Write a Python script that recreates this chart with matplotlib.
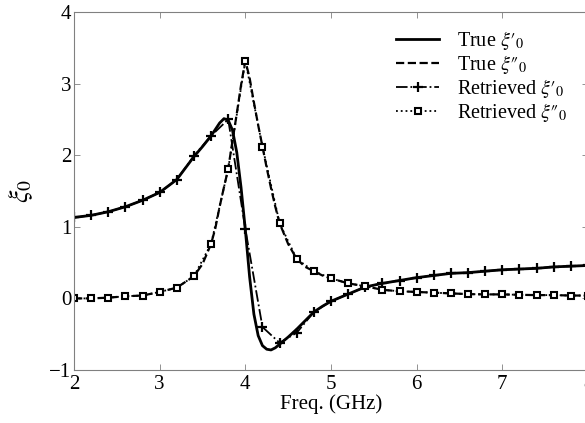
import numpy as np
import matplotlib
matplotlib.use("Agg")
import matplotlib.pyplot as plt

# ------------------ DATA ------------------

# true curves, finer near the resonance
f_true = [2.0, 2.2, 2.4, 2.6, 2.8, 3.0, 3.2, 3.4, 3.5, 3.6, 3.65, 3.7, 3.75,
          3.8, 3.85, 3.9, 3.95, 4.0, 4.05, 4.1, 4.15, 4.2, 4.25, 4.3, 4.35,
          4.4, 4.5, 4.6, 4.7, 4.8, 4.9, 5.0, 5.2, 5.4, 5.6, 5.8, 6.0, 6.2,
          6.4, 6.6, 6.8, 7.0, 7.2, 7.4, 7.6, 7.8, 8.0]
re_true = [1.13, 1.16, 1.21, 1.28, 1.37, 1.48, 1.66, 1.98, 2.12, 2.27, 2.36,
           2.45, 2.51, 2.49, 2.35, 2.04, 1.55, 0.96, 0.30, -0.22, -0.52,
           -0.66, -0.71, -0.72, -0.69, -0.64, -0.54, -0.43, -0.31, -0.19,
           -0.11, -0.04, 0.06, 0.16, 0.21, 0.25, 0.29, 0.32, 0.35, 0.36,
           0.38, 0.40, 0.41, 0.42, 0.44, 0.45, 0.46]
im_true = [0.0, 0.0, 0.01, 0.03, 0.04, 0.09, 0.15, 0.31, 0.48, 0.76, 0.98,
           1.28, 1.55, 1.81, 2.20, 2.58, 2.98, 3.32, 3.08, 2.74, 2.42, 2.12,
           1.82, 1.54, 1.28, 1.05, 0.76, 0.55, 0.44, 0.38, 0.32, 0.28, 0.21,
           0.17, 0.12, 0.10, 0.09, 0.08, 0.07, 0.06, 0.056, 0.056, 0.05,
           0.046, 0.046, 0.04, 0.04]

# retrieved values, every 0.2 GHz
f_ret = [2.0, 2.2, 2.4, 2.6, 2.8, 3.0, 3.2, 3.4, 3.6, 3.8, 4.0, 4.2, 4.4,
         4.6, 4.8, 5.0, 5.2, 5.4, 5.6, 5.8, 6.0, 6.2, 6.4, 6.6, 6.8, 7.0,
         7.2, 7.4, 7.6, 7.8, 8.0]
re_ret = [1.13, 1.16, 1.21, 1.28, 1.37, 1.48, 1.66, 1.99, 2.27, 2.50, 0.97,
          -0.40, -0.62, -0.48, -0.19, -0.04, 0.06, 0.16, 0.21, 0.25, 0.29,
          0.32, 0.35, 0.36, 0.38, 0.40, 0.41, 0.42, 0.44, 0.45, 0.46]
im_ret = [0.0, 0.0, 0.01, 0.03, 0.04, 0.09, 0.15, 0.31, 0.76, 1.81, 3.32,
          2.12, 1.05, 0.55, 0.38, 0.28, 0.21, 0.17, 0.12, 0.10, 0.09, 0.08,
          0.07, 0.06, 0.056, 0.056, 0.05, 0.046, 0.046, 0.04, 0.04]

# ------------------ STYLE ------------------

plt.rcParams["font.family"] = ["Liberation Serif", "DejaVu Serif"]
plt.rcParams["mathtext.fontset"] = "stix"
plt.rcParams["axes.unicode_minus"] = True

fig = plt.figure(figsize=(5.85, 4.23), dpi=100)
ax = fig.add_axes([0.1265, 0.1253, 0.8786, 0.8463])

ax.plot(f_true, re_true, "-", color="black", lw=2.0,
        label="True $\\xi\u2032_0$")
ax.plot(f_true, im_true, "--", color="black", lw=1.6,
        label="True $\\xi\u2033_0$")
ax.plot(f_ret, re_ret, "-.", color="black", lw=1.3, marker="+", ms=7,
        mew=1.6, label="Retrieved $\\xi\u2032_0$")
ax.plot(f_ret, im_ret, ":", color="black", lw=1.3, marker="s", ms=5,
        mew=1.5, mfc="white", label="Retrieved $\\xi\u2033_0$")

ax.set_xlim(2, 8)
ax.set_ylim(-1, 4)
ax.set_xticks([2, 3, 4, 5, 6, 7, 8])
ax.set_yticks([-1, 0, 1, 2, 3, 4])
ax.tick_params(direction="in", length=4, width=0.6, color="#808080",
               labelsize=15, top=True, right=True)
ax.tick_params(axis="x", pad=3.5)
ax.tick_params(axis="y", pad=2)
for s in ax.spines.values():
    s.set_color("#808080")
    s.set_linewidth(0.8)

ax.set_xlabel("Freq. (GHz)", fontsize=15, labelpad=0)
ax.set_ylabel(r"$\xi_0$", fontsize=20, labelpad=10)

leg = ax.legend(loc="upper right", bbox_to_anchor=(1.0, 0.975),
                bbox_transform=fig.transFigure, frameon=False, fontsize=14.5,
                handlelength=2.1, handletextpad=0.9, labelspacing=0.05)

fig.savefig("out.png", dpi=100)
